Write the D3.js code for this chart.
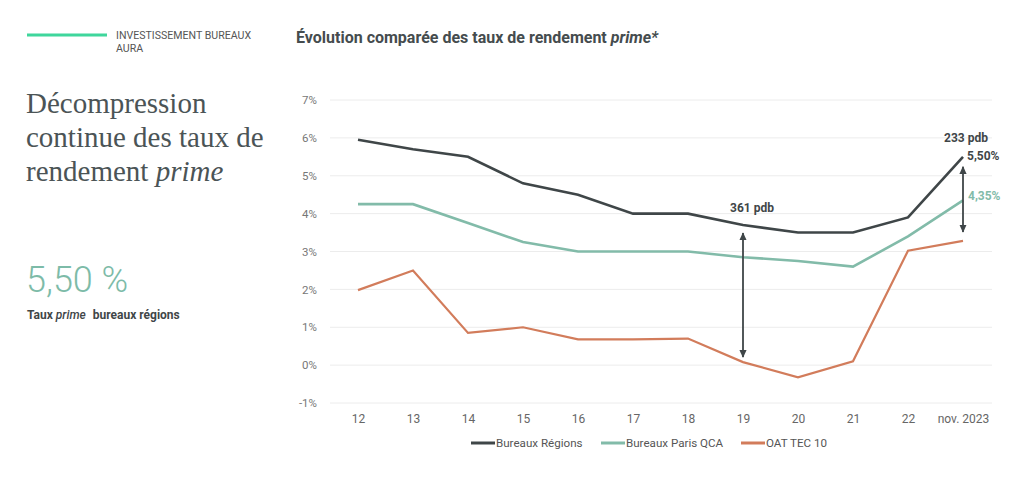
<!DOCTYPE html>
<html><head><meta charset="utf-8">
<script src="https://cdn.jsdelivr.net/npm/d3@7"></script>
<style>body{margin:0;background:#fff;}svg{display:block;}</style>
</head><body>
<script>
const categories = ["12","13","14","15","16","17","18","19","20","21","22","nov. 2023"];
const bureauxRegions = [5.95,5.7,5.5,4.8,4.5,4.0,4.0,3.7,3.5,3.5,3.9,5.5];
const bureauxParis   = [4.25,4.25,3.75,3.25,3.0,3.0,3.0,2.85,2.75,2.6,3.4,4.35];
const oatTec10       = [1.98,2.5,0.85,1.0,0.68,0.68,0.7,0.08,-0.32,0.1,3.02,3.28];
const yTicks = [-1,0,1,2,3,4,5,6,7];
const seriesNames = ["Bureaux Régions","Bureaux Paris QCA","OAT TEC 10"];
const seriesColors = ["#3f4648","#82bba9","#d27c5b"];

const W=1024,H=485;
const svg=d3.select("body").append("svg").attr("width",W).attr("height",H);

// left panel
svg.append("line").attr("x1",27).attr("x2",107).attr("y1",35).attr("y2",35).attr("stroke","#3fd69c").attr("stroke-width",3);
const kick=svg.append("text").attr("x",116).attr("y",39).attr("font-family","Roboto, sans-serif").attr("font-size",10.6).attr("fill","#555");
kick.append("tspan").attr("x",116).attr("dy",0).text("INVESTISSEMENT BUREAUX");
kick.append("tspan").attr("x",116).attr("dy",13).text("AURA");

const tt=svg.append("text").attr("font-family","'Liberation Serif', serif").attr("font-size",29).attr("fill","#4b5456");
tt.append("tspan").attr("x",26).attr("y",113).text("Décompression");
tt.append("tspan").attr("x",26).attr("y",147).text("continue des taux de");
tt.append("tspan").attr("x",26).attr("y",181).text("rendement ");
tt.append("tspan").attr("font-style","italic").text("prime");

svg.append("text").attr("x",26).attr("y",292).attr("font-family","Roboto, sans-serif").attr("font-weight",300).attr("font-size",36).attr("fill","#7dbba8").text("5,50 %");
const sub=svg.append("text").attr("x",27).attr("y",319).attr("font-family","Roboto, sans-serif").attr("font-weight",700).attr("font-size",12).attr("fill","#3f4648");
sub.append("tspan").text("Taux ");
sub.append("tspan").attr("font-style","italic").attr("font-weight",500).text("prime");
sub.append("tspan").attr("dx",7).text("bureaux régions");

// chart title
const ct=svg.append("text").attr("x",296).attr("y",43).attr("font-family","Roboto, sans-serif").attr("font-weight",700).attr("font-size",16).attr("fill","#454c4e");
ct.append("tspan").text("Évolution comparée des taux de rendement ");
ct.append("tspan").attr("font-style","italic").text("prime*");

// scales
const x=d3.scalePoint().domain(categories).range([358,963]);
const y=d3.scaleLinear().domain([-1,7]).range([403,100]);

// grid
svg.append("g").selectAll("line").data(yTicks).join("line")
 .attr("x1",330).attr("x2",992).attr("y1",d=>y(d)).attr("y2",d=>y(d))
 .attr("stroke","#ececec").attr("stroke-width",1);

// y axis labels
const yAxis=svg.append("g").attr("transform","translate(320,0)")
 .call(d3.axisLeft(y).tickValues(yTicks).tickSize(0).tickFormat(d=>d+"%"));
yAxis.select(".domain").remove();
yAxis.selectAll("text").attr("font-family","Roboto, sans-serif").attr("font-size",11.5).attr("fill","#777");

// x axis labels
const xAxis=svg.append("g").attr("transform","translate(0,411)")
 .call(d3.axisBottom(x).tickSize(0));
xAxis.select(".domain").remove();
xAxis.selectAll("text").attr("font-family","Roboto, sans-serif").attr("font-size",12).attr("fill","#666");

// lines
const data=[bureauxRegions,bureauxParis,oatTec10];
const line=d3.line().x((d,i)=>x(categories[i])).y(d=>y(d));
data.forEach((s,k)=>{
  svg.append("path").attr("d",line(s)).attr("fill","none").attr("stroke",seriesColors[k])
   .attr("stroke-width",k==2?2.2:2.6).attr("stroke-linejoin","miter");
});

// arrows
const defs=svg.append("defs");
defs.append("marker").attr("id","ah").attr("viewBox","0 0 10 10").attr("refX",9).attr("refY",5)
 .attr("markerUnits","userSpaceOnUse").attr("markerWidth",8).attr("markerHeight",8).attr("orient","auto-start-reverse")
 .append("path").attr("d","M0,0.5 L10,5 L0,9.5 Z").attr("fill","#3f4648");
function darrow(cx,v1,v2,pad1,pad2){
  svg.append("line").attr("x1",x(cx)).attr("x2",x(cx)).attr("y1",y(v1)+pad1).attr("y2",y(v2)-pad2)
   .attr("stroke","#3f4648").attr("stroke-width",1.8)
   .attr("marker-start","url(#ah)").attr("marker-end","url(#ah)");
}
darrow("19",bureauxRegions[7],oatTec10[7],8,5);
darrow("nov. 2023",bureauxRegions[11],oatTec10[11],10,9);

const lab=(tx,ty,t,c,anchor)=>svg.append("text").attr("x",tx).attr("y",ty).attr("text-anchor",anchor||"middle")
 .attr("font-family","Roboto, sans-serif").attr("font-weight",700).attr("font-size",12).attr("fill",c).text(t);
lab(x("19")+9,212,"361 pdb","#3f4648");
lab(x("nov. 2023")+3,142,"233 pdb","#3f4648");
lab(x("nov. 2023")+4,160,"5,50%","#3f4648","start");
lab(x("nov. 2023")+5,200,"4,35%","#82bba9","start");

// legend
const lg=[{x:471,w:24},{x:601,w:24},{x:741,w:24}];
seriesNames.forEach((n,k)=>{
  svg.append("line").attr("x1",lg[k].x).attr("x2",lg[k].x+lg[k].w).attr("y1",443).attr("y2",443)
   .attr("stroke",seriesColors[k]).attr("stroke-width",3);
  svg.append("text").attr("x",lg[k].x+lg[k].w+1).attr("y",447).attr("font-family","Roboto, sans-serif")
   .attr("font-size",11.6).attr("fill","#555").text(n);
});
</script>
</body></html>
